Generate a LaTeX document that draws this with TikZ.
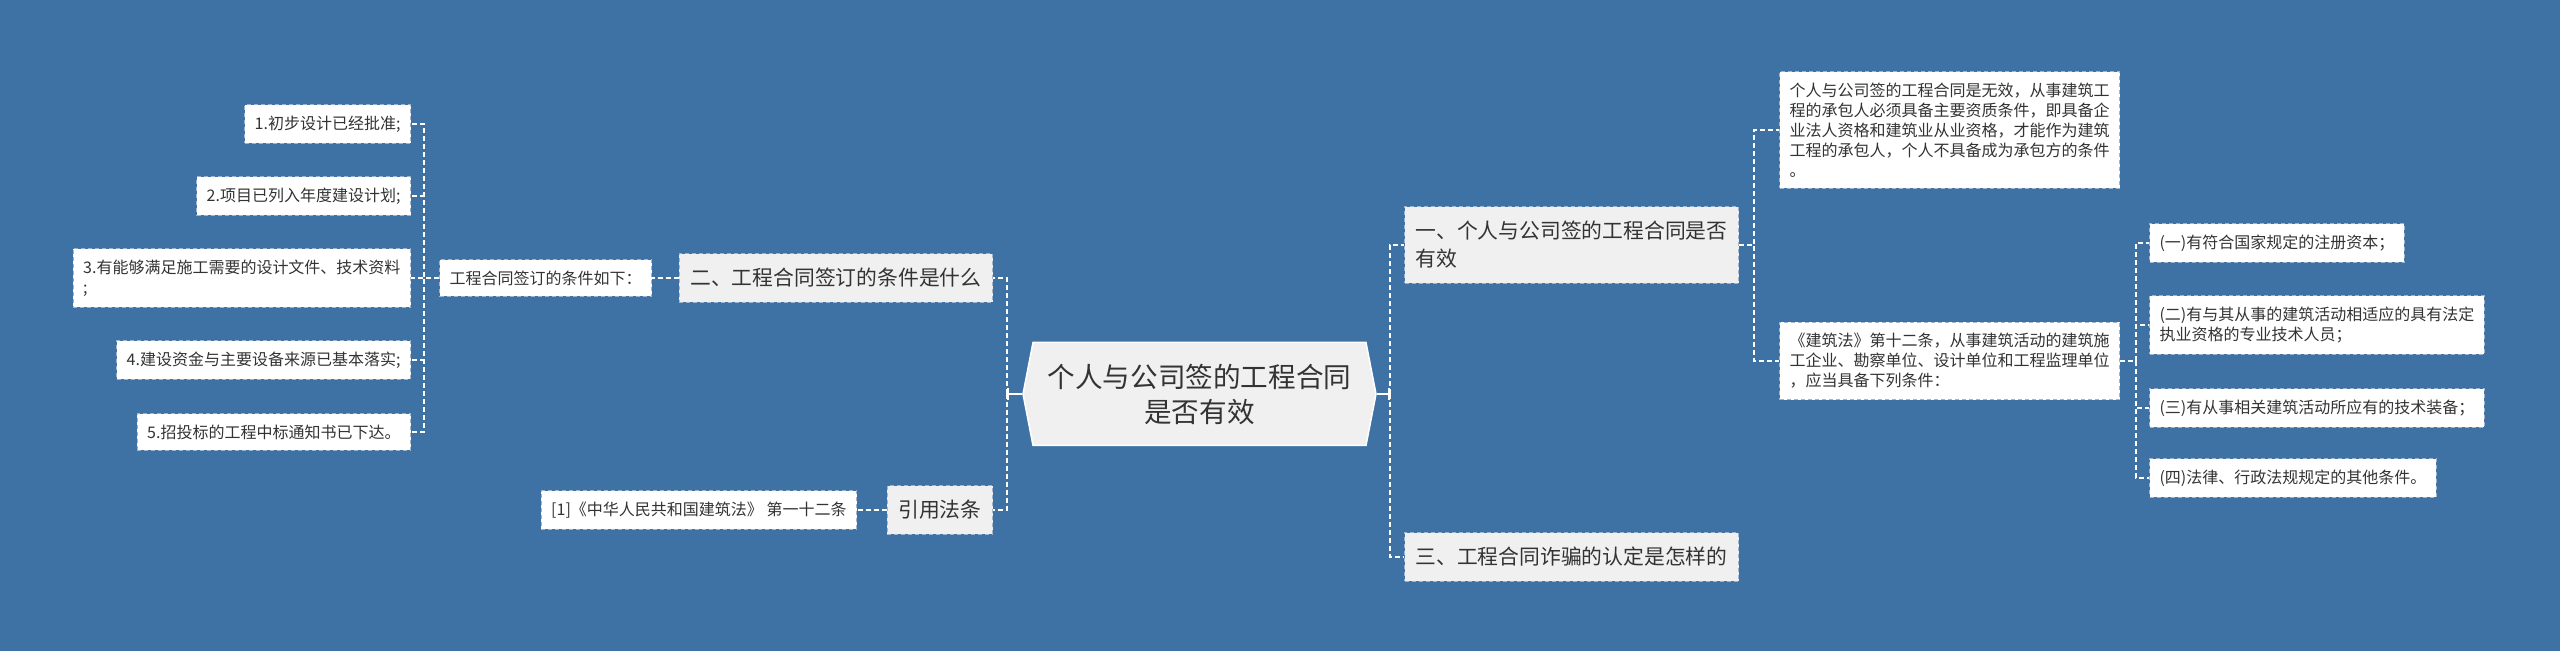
\documentclass[tikz,border=0pt]{standalone}
\usepackage{fontspec}
\setmainfont{Noto Sans CJK SC}
\usetikzlibrary{shapes.symbols,arrows.meta}

\definecolor{fond}{RGB}{62,114,164}
\definecolor{texte}{RGB}{51,51,51}
\definecolor{bord}{RGB}{160,180,205}
\definecolor{gris}{RGB}{240,240,240}

\tikzset{
  feuille/.style={draw=bord,dash pattern=on 2pt off 1.5pt,line width=.5pt,
    fill=white,text=texte,font=\fontsize{8}{10}\selectfont,align=left,
    inner xsep=5pt,inner ysep=5.5pt},
  theme/.style={feuille,fill=gris,font=\fontsize{10.4}{14}\selectfont,
    inner xsep=5.5pt,inner ysep=7.3pt},
  centre/.style={shape=signal,signal to=west and east,signal pointer angle=158,
    fill=gris,draw=white,line width=.75pt,text=texte,align=center,
    minimum width=176.5pt,minimum height=51.5pt,
    font=\fontsize{13.8}{17.5}\selectfont},
  lien/.style={draw=white,line width=.75pt,dash pattern=on 2.5pt off 1.5pt},
  tige/.style={draw=white,line width=.75pt,-{Bar[width=6pt,line width=.75pt]}}
}

\begin{document}
\begin{tikzpicture}[x=.5pt,y=-.5pt]

\fill[fond]
(0,0)
rectangle
(2560,651);
\useasboundingbox
(0,0)
rectangle
(2560,651);

% Centre
\node[centre]
(R)
at (1199.5,394)
{个人与公司签的工程合同\\是否有效};

% Conditions
\node[theme,anchor=east]
(T2)
at (993,278)
{二、工程合同签订的条件是什么};

\node[feuille,anchor=west]
(C1)
at (439,278)
{工程合同签订的条件如下：};

\node[feuille,anchor=east] (L1) at (411,124) {1.初步设计已经批准;};
\node[feuille,anchor=east] (L2) at (411,196) {2.项目已列入年度建设计划;};
\node[feuille,anchor=east] (L3) at (411,278) {3.有能够满足施工需要的设计文件、技术资料\\;};
\node[feuille,anchor=east] (L4) at (411,360) {4.建设资金与主要设备来源已基本落实;};
\node[feuille,anchor=east] (L5) at (411,432) {5.招投标的工程中标通知书已下达。};

% Loi
\node[theme,anchor=east]
(T4)
at (993,510)
{引用法条};

\node[feuille,anchor=east]
(F1)
at (857,510)
{[1]《中华人民共和国建筑法》 第一十二条};

% Validite
\node[theme,anchor=west]
(T1)
at (1404,245)
{一、个人与公司签的工程合同是否\\有效};

\node[feuille,anchor=west]
(A1)
at (1779,130)
{个人与公司签的工程合同是无效，从事建筑工\\程的承包人必须具备主要资质条件，即具备企\\业法人资格和建筑业从业资格，才能作为建筑\\工程的承包人，个人不具备成为承包方的条件\\。};

\node[feuille,anchor=west]
(A2)
at (1779,361)
{《建筑法》第十二条，从事建筑活动的建筑施\\工企业、勘察单位、设计单位和工程监理单位\\，应当具备下列条件：};

\node[feuille,anchor=west] (B1) at (2149,243) {(一)有符合国家规定的注册资本；};
\node[feuille,anchor=west] (B2) at (2149,325) {(二)有与其从事的建筑活动相适应的具有法定\\执业资格的专业技术人员；};
\node[feuille,anchor=west] (B3) at (2149,408) {(三)有从事相关建筑活动所应有的技术装备；};
\node[feuille,anchor=west] (B4) at (2149,478) {(四)法律、行政法规规定的其他条件。};

% Fraude
\node[theme,anchor=west]
(T3)
at (1404,557)
{三、工程合同诈骗的认定是怎样的};

% Liens
\draw[tige] (R.west) -- ++(-15,0) coordinate (RG);
\draw[tige] (R.east) -- ++(13,0) coordinate (RD);
\draw[lien] (RG) |- (T2.east);
\draw[lien] (RG) |- (T4.east);
\draw[lien] (RD) |- (T1.west);
\draw[lien] (RD) |- (T3.west);

\draw[lien] (T2.west) -- (C1.east);
\foreach \f in {L1,L2,L3,L4,L5}
  \draw[lien] (C1.west) -- ++(-15,0) |- (\f.east);

\draw[lien] (T4.west) -- (F1.east);

\foreach \f in {A1,A2}
  \draw[lien] (T1.east) -- ++(15,0) |- (\f.west);
\foreach \f in {B1,B2,B3,B4}
  \draw[lien] (A2.east) -- ++(16,0) |- (\f.west);

\end{tikzpicture}
\end{document}
